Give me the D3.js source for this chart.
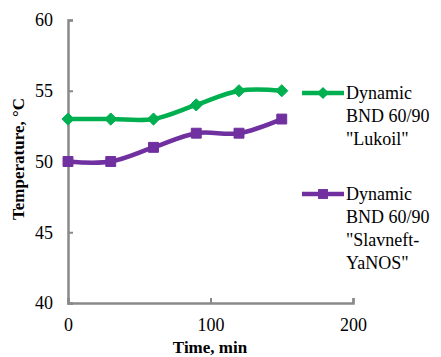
<!DOCTYPE html>
<html>
<head>
<meta charset="utf-8">
<script src="https://cdn.jsdelivr.net/npm/d3@7"></script>
<style>
  body { margin: 0; background: #fff; }
</style>
</head>
<body>
<div id="chart-area"></div>
<script>
// data
var times = [0, 30, 60, 90, 120, 150];
var lukoil = [53, 53, 53, 54, 55, 55];
var slavneft = [50, 50, 51, 52, 52, 53];
var xTicks = [0, 100, 200];
var yTicks = [40, 45, 50, 55, 60];
var seriesNames = [
  ['Dynamic', 'BND 60/90', '"Lukoil"'],
  ['Dynamic', 'BND 60/90', '"Slavneft-', 'YaNOS"']
];

var serif = "'Liberation Serif', serif";

var svg = d3.select('#chart-area').append('svg')
    .attr('width', 441)
    .attr('height', 357)
    .style('font-family', serif);

var x = d3.scaleLinear().domain([0, 200]).range([68, 353]);
var y = d3.scaleLinear().domain([40, 60]).range([303, 20]);

var axisColor = '#898989';

// axes
var xAxis = svg.append('g')
    .attr('transform', 'translate(0,303)')
    .call(d3.axisBottom(x).tickValues(xTicks).tickSize(-5).tickPadding(15));
var yAxis = svg.append('g')
    .attr('transform', 'translate(68,0)')
    .call(d3.axisLeft(y).tickValues(yTicks).tickSize(-5).tickPadding(15));

[xAxis, yAxis].forEach(function (a) {
  a.attr('font-family', null).attr('font-size', null);
  a.select('.domain').attr('stroke', axisColor).attr('stroke-width', 2.5);
  a.selectAll('.tick line').attr('stroke', axisColor).attr('stroke-width', 2);
  a.selectAll('.tick text')
    .style('font-family', serif)
    .style('font-size', '18px')
    .attr('fill', '#000');
});
xAxis.selectAll('.tick text').attr('dy', '0.71em');

// axis titles
svg.append('text')
    .attr('x', 210).attr('y', 353)
    .attr('text-anchor', 'middle')
    .style('font-family', serif)
    .style('font-size', '17px').style('font-weight', 'bold')
    .text('Time, min');
svg.append('text')
    .attr('transform', 'translate(24,159) rotate(-90)')
    .attr('text-anchor', 'middle')
    .style('font-family', serif)
    .style('font-size', '17px').style('font-weight', 'bold')
    .text('Temperature, °C');

var line = d3.line()
    .x(function (d) { return x(d[0]); })
    .y(function (d) { return y(d[1]); })
    .curve(d3.curveCardinal.tension(0));

var series = [
  { vals: lukoil, color: '#00B050', symbol: d3.symbolDiamond2, size: 95, legY: 93 },
  { vals: slavneft, color: '#7030A0', symbol: d3.symbolSquare2, size: 125, legY: 194 }
];

series.forEach(function (s, k) {
  var pts = times.map(function (t, i) { return [t, s.vals[i]]; });
  svg.append('path')
      .datum(pts)
      .attr('d', line)
      .attr('fill', 'none')
      .attr('stroke', s.color)
      .attr('stroke-width', 4.5);

  var sym = d3.symbol().type(s.symbol).size(s.size);
  svg.selectAll('.m' + k)
      .data(pts)
      .enter().append('path')
      .attr('class', 'm' + k)
      .attr('d', sym)
      .attr('transform', function (d) { return 'translate(' + x(d[0]) + ',' + y(d[1]) + ')'; })
      .attr('fill', s.color)
      .attr('stroke', s.color)
      .attr('stroke-width', 1);

  // legend
  svg.append('line')
      .attr('x1', 302).attr('x2', 344)
      .attr('y1', s.legY).attr('y2', s.legY)
      .attr('stroke', s.color).attr('stroke-width', 4.5);
  svg.append('path')
      .attr('d', sym)
      .attr('transform', 'translate(323,' + s.legY + ')')
      .attr('fill', s.color);
  svg.append('text')
      .attr('x', 346)
      .attr('y', s.legY)
      .style('font-family', serif)
      .style('font-size', '18px')
      .selectAll('tspan')
      .data(seriesNames[k])
      .enter().append('tspan')
      .attr('x', 346)
      .attr('y', function (d, i) { return s.legY + 6 + i * 23; })
      .text(function (d) { return d; });
});
</script>
</body>
</html>
